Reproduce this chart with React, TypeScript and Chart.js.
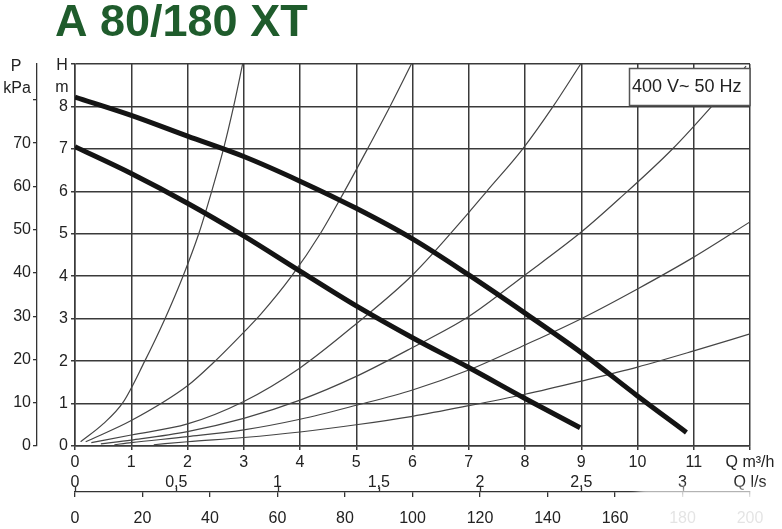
import { useEffect, useRef } from "react"
import { Chart, registerables } from "chart.js"

// Register Chart.js components
Chart.register(...registerables)

// Pump curves (Q in m³/h, H in m)
const maxSpeedQ = [0, 1, 2, 3, 4, 5, 6, 7, 8, 9, 10, 10.87]
const maxSpeedH = [8.22, 7.79, 7.3, 6.82, 6.24, 5.6, 4.88, 4.03, 3.13, 2.2, 1.18, 0.32]
const minSpeedQ = [0, 1, 2, 3, 4, 5, 6, 7, 8, 8.98]
const minSpeedH = [7.05, 6.42, 5.72, 4.95, 4.12, 3.3, 2.55, 1.85, 1.12, 0.43]

// System curves, steepest first
const sys1Q = [0.1, 0.5, 0.85, 1.24, 1.6, 1.92, 2.2, 2.43, 2.64, 2.82, 2.98]
const sys1H = [0.1, 0.52, 1.02, 2, 3, 4, 5, 6, 7, 8, 9]
const sys2Q = [0.19, 1, 2, 2.45, 3, 3.3, 3.85, 4.36, 4.79, 5.2, 5.6, 5.98]
const sys2H = [0.1, 0.6, 1.42, 1.95, 2.68, 3.1, 4, 5, 6, 7, 8, 9]
const sys3Q = [0.29, 1, 2, 3, 4, 5, 6, 7, 7.32, 7.96, 8.5, 8.99]
const sys3H = [0.08, 0.26, 0.52, 1.05, 1.84, 2.88, 4.03, 5.5, 6, 7, 8, 9]
const sys4Q = [0.46, 1, 2, 3, 4, 5, 6, 7, 8, 9, 9.68, 10.63, 11.37, 11.93]
const sys4H = [0.05, 0.14, 0.34, 0.65, 1.08, 1.64, 2.32, 3.05, 4.03, 5.04, 5.83, 7.01, 8.08, 8.95]
const sys5Q = [0.7, 1, 2, 3, 4, 5, 6, 7, 8, 9, 10, 11, 12]
const sys5H = [0.03, 0.08, 0.22, 0.38, 0.63, 0.96, 1.32, 1.79, 2.38, 3.0, 3.7, 4.45, 5.28]
const sys6Q = [1.4, 2, 3, 4, 5, 6, 7, 8, 9, 10, 11, 12]
const sys6H = [0.03, 0.1, 0.2, 0.33, 0.5, 0.7, 0.95, 1.22, 1.53, 1.86, 2.24, 2.64]

// Axis ticks
const flowTicks = [0, 1, 2, 3, 4, 5, 6, 7, 8, 9, 10, 11, 12]
const flowLabels = ["0", "1", "2", "3", "4", "5", "6", "7", "8", "9", "10", "11", "Q m³/h"]
const headTicks = [0, 1, 2, 3, 4, 5, 6, 7, 8, 9]
const headLabels = ["0", "1", "2", "3", "4", "5", "6", "7", "8", ""]
const kPaTicks = [0, 10, 20, 30, 40, 50, 60, 70, 80]
const kPaLabels = ["0", "10", "20", "30", "40", "50", "60", "70", ""]
const lsTicks = [0, 0.5, 1, 1.5, 2, 2.5, 3]
const lsLabels = ["0", "0,5", "1", "1,5", "2", "2,5", "3"]
const lminTicks = [0, 20, 40, 60, 80, 100, 120, 140, 160, 180, 200]

// unit conversions
const M3H_PER_LS = 3.6
const LMIN_PER_LS = 60
const KPA_PER_M = 9.81

const FONT = "'Liberation Sans', Arial, sans-serif"
const GRID = "#3a3a3a"
const TICK_FONT = { size: 16, family: FONT }

const toPoints = (q: number[], h: number[]) => q.map((x, i) => ({ x, y: h[i] }))
const setTicks = (values: number[]) => (scale: any) => {
  scale.ticks = values.map((value) => ({ value }))
}

const extrasPlugin = {
  id: "extras",
  afterDraw(chart: any) {
    const ctx = chart.ctx as CanvasRenderingContext2D
    const ls = chart.scales.xLs
    const lineY = chart.scales.xLmin.top
    ctx.save()

    // l/s tick marks pointing up from the shared line
    ctx.strokeStyle = "#333"
    ctx.lineWidth = 1.3
    lsTicks.forEach((v) => {
      const x = Math.round(ls.getPixelForValue(v)) + 0.5
      ctx.beginPath()
      ctx.moveTo(x, lineY - 5)
      ctx.lineTo(x, lineY)
      ctx.stroke()
    })

    // smudge in the bottom right corner
    ctx.filter = "blur(4px)"
    ctx.fillStyle = "rgba(255,255,255,0.88)"
    ctx.fillRect(638, 489, 160, 50)
    ctx.filter = "none"

    // axis names
    ctx.fillStyle = "#222"
    ctx.font = `16px ${FONT}`
    ctx.textAlign = "center"
    ctx.textBaseline = "middle"
    ctx.fillText("H", 62, 66)
    ctx.fillText("m", 62, 88)
    ctx.fillText("P", 16, 67)
    ctx.fillText("kPa", 17, 89)

    // rating box
    const { right, top } = chart.chartArea
    ctx.fillStyle = "#fff"
    ctx.fillRect(629, top + 4, right - 629, 37)
    ctx.strokeStyle = "#555"
    ctx.lineWidth = 1.5
    ctx.strokeRect(629.5, top + 4.5, right - 629.5, 37)
    ctx.fillStyle = "#222"
    ctx.font = `18px ${FONT}`
    ctx.textAlign = "left"
    ctx.fillText("400 V~ 50 Hz", 632, top + 23)

    // title
    ctx.fillStyle = "#1f5c2c"
    ctx.font = `bold 45px ${FONT}`
    ctx.textBaseline = "alphabetic"
    ctx.fillText("A 80/180 XT", 55, 36)
    ctx.restore()
  },
}

export default function App() {
  const chartRef = useRef<HTMLCanvasElement>(null)
  const chartInstance = useRef<Chart | null>(null)

  useEffect(() => {
    if (!chartRef.current) return
    if (chartInstance.current) chartInstance.current.destroy()

    const thin = { borderColor: "#454545", borderWidth: 1.2 }
    const thick = { borderColor: "#141414", borderWidth: 5 }
    const common = { pointRadius: 0, cubicInterpolationMode: "monotone", xAxisID: "x", yAxisID: "y" }

    chartInstance.current = new Chart(chartRef.current, {
      type: "line",
      data: {
        datasets: [
          { ...common, ...thick, data: toPoints(maxSpeedQ, maxSpeedH) },
          { ...common, ...thick, data: toPoints(minSpeedQ, minSpeedH) },
          { ...common, ...thin, data: toPoints(sys1Q, sys1H) },
          { ...common, ...thin, data: toPoints(sys2Q, sys2H) },
          { ...common, ...thin, data: toPoints(sys3Q, sys3H) },
          { ...common, ...thin, data: toPoints(sys4Q, sys4H) },
          { ...common, ...thin, data: toPoints(sys5Q, sys5H) },
          { ...common, ...thin, data: toPoints(sys6Q, sys6H) },
        ] as any,
      },
      options: {
        responsive: true,
        maintainAspectRatio: false,
        animation: false,
        layout: { padding: { top: 64, right: 32, left: 0, bottom: 0 } },
        plugins: { legend: { display: false }, tooltip: { enabled: false } },
        font: { family: FONT },
        scales: {
          x: {
            type: "linear",
            axis: "x",
            position: "bottom",
            weight: 0,
            min: 0,
            max: 12,
            afterBuildTicks: setTicks(flowTicks),
            afterFit: (s: any) => { s.height = 26 },
            ticks: {
              callback: (_v: any, i: number) => flowLabels[i],
              autoSkip: false,
              maxRotation: 0,
              padding: 3,
              color: "#222",
              font: TICK_FONT,
            },
            grid: { color: GRID, lineWidth: 1.5, tickLength: 4 },
            border: { color: GRID, width: 1.5 },
          },
          xLs: {
            type: "linear",
            axis: "x",
            position: "bottom",
            weight: 1,
            min: 0,
            max: 12 / M3H_PER_LS,
            afterBuildTicks: setTicks([...lsTicks, 12 / M3H_PER_LS]),
            afterFit: (s: any) => { s.height = 20 },
            ticks: {
              callback: (_v: any, i: number) => (i < lsLabels.length ? lsLabels[i] : "Q l/s"),
              autoSkip: false,
              maxRotation: 0,
              padding: 1,
              color: "#222",
              font: TICK_FONT,
            },
            grid: { display: false, drawTicks: false },
            border: { display: false },
          },
          xLmin: {
            type: "linear",
            axis: "x",
            position: "bottom",
            weight: 2,
            min: 0,
            max: (12 / M3H_PER_LS) * LMIN_PER_LS,
            afterBuildTicks: setTicks(lminTicks),
            afterFit: (s: any) => { s.height = 37 },
            ticks: {
              autoSkip: false,
              maxRotation: 0,
              padding: 12,
              color: "#222",
              font: TICK_FONT,
            },
            grid: { drawOnChartArea: false, color: "#333", lineWidth: 1.3, tickLength: 5 },
            border: { color: "#333", width: 1.3 },
          },
          y: {
            type: "linear",
            axis: "y",
            position: "left",
            weight: 0,
            min: 0,
            max: 9,
            afterBuildTicks: setTicks(headTicks),
            afterFit: (s: any) => { s.width = 38 },
            ticks: {
              callback: (_v: any, i: number) => headLabels[i],
              padding: 3,
              color: "#222",
              font: TICK_FONT,
            },
            grid: { color: GRID, lineWidth: 1.5, tickLength: 4 },
            border: { color: GRID, width: 1.5 },
          },
          yP: {
            type: "linear",
            axis: "y",
            position: "left",
            weight: 1,
            min: 0,
            max: 9 * KPA_PER_M,
            afterBuildTicks: setTicks(kPaTicks),
            afterFit: (s: any) => { s.width = 37 },
            ticks: {
              callback: (_v: any, i: number) => kPaLabels[i],
              padding: 2,
              color: "#222",
              font: TICK_FONT,
            },
            grid: { drawOnChartArea: false, color: "#333", lineWidth: 1.3, tickLength: 4 },
            border: { color: "#333", width: 1.3 },
          },
        },
      } as any,
      plugins: [extrasPlugin],
    })

    return () => {
      if (chartInstance.current) {
        chartInstance.current.destroy()
        chartInstance.current = null
      }
    }
  }, [])

  return (
    <div style={{ position: "absolute", left: 0, top: 0, width: 782, height: 529, background: "#fff" }}>
      <canvas ref={chartRef}></canvas>
    </div>
  )
}
